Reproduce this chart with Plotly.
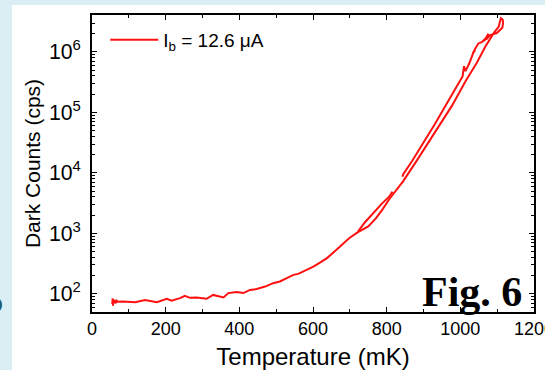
import plotly.graph_objects as go

# Dark counts vs temperature
temperature_mk = [
    55, 56, 57, 58, 60, 62, 64, 67, 70, 85, 117, 144, 176, 203, 216, 239, 252, 266, 284,
    311, 329, 343, 357, 370, 393, 411, 429, 447, 470, 492, 510, 529, 547, 560, 583, 601,
    619, 638, 666, 698, 722, 750, 770, 787, 806, 825, 845, 883, 930, 977, 1016, 1044,
    1068, 1092, 1104, 1110, 1115,
    1116, 1114, 1099, 1081, 1070, 1076, 1064, 1072, 1058, 1049, 1041, 1034, 1040, 1036,
    1025, 1014, 1010, 1006, 1000, 990, 976, 955, 931, 900, 870, 845, 843,
    None,
    816, 806, 787, 758, 740, 722,
]
dark_counts_cps = [
    68, 84, 64, 80, 70, 79, 70, 77, 74, 74.6, 72.8, 79, 73, 83, 77, 85, 93, 86, 87,
    83, 96, 92, 87, 103, 107, 103, 116, 120, 132, 150, 160, 182, 206, 214, 249, 282,
    329, 390, 550, 830, 1050, 1300, 1750, 2400, 3600, 5200, 7300, 16400, 45300, 128000, 344000, 650000,
    1.23e6, 2.1e6, 2.6e6, 3.6e6, 3.4e6,
    3.0e6, 2.5e6, 2.05e6, 1.9e6, 1.6e6, 2.0e6, 1.5e6, 1.75e6, 1.45e6, 1.38e6, 1.15e6, 9.5e5, 1.05e6, 1.0e6,
    6.6e5, 4.8e5, 5.8e5, 3.9e5, 3.4e5, 2.7e5, 1.9e5, 1.15e5, 6.4e4, 3.1e4, 1.6e4, 9.5e3, 8.6e3,
    None,
    4900, 4000, 3100, 2000, 1500, 1070,
]
series_name = "I<sub>b</sub> = 12.6 μA"
x_title = "Temperature (mK)"
y_title = "Dark Counts (cps)"
fig_label = "<b>Fig. 6</b>"

FONT = "Liberation Sans, Arial, sans-serif"

fig = go.Figure()
fig.add_trace(go.Scatter(
    x=temperature_mk, y=dark_counts_cps, mode="lines", name=series_name,
    line=dict(color="#ff1010", width=2), connectgaps=False,
))

# slide background panel
fig.add_shape(type="rect", xref="paper", yref="paper",
              x0=-0.181, x1=1.1, y0=-0.3, y1=1.0337,
              fillcolor="white", line=dict(width=0), layer="below")

fig.add_annotation(text=fig_label, xref="paper", yref="paper", x=0.977, y=0.067,
                   xanchor="right", yanchor="middle", showarrow=False,
                   font=dict(family="Liberation Serif, Times New Roman, serif", size=42, color="black"))
fig.add_annotation(text="<b>o</b>", xref="paper", yref="paper", x=-0.197, y=0.03,
                   xanchor="right", yanchor="middle", showarrow=False,
                   font=dict(family=FONT, size=26, color="#245b66"))

fig.update_layout(
    width=545, height=370,
    margin=dict(l=92, r=11, t=15, b=58),
    paper_bgcolor="#dbeef3", plot_bgcolor="white",
    font=dict(family=FONT, color="black"),
    showlegend=True,
    legend=dict(x=0.03, y=0.916, xanchor="left", yanchor="middle",
                bgcolor="rgba(0,0,0,0)", font=dict(size=19, family=FONT), itemwidth=48),
    xaxis=dict(
        range=[0, 1200], dtick=200, tick0=0, automargin=False,
        ticks="inside", ticklen=5, tickwidth=1, tickcolor="black",
        minor=dict(ticks="inside", ticklen=3, dtick=100, tickcolor="black"),
        showline=True, linecolor="black", linewidth=1.5, mirror="ticks",
        showgrid=False, zeroline=False, ticklabeloverflow="allow",
        tickfont=dict(size=18, family=FONT),
        title=dict(text=x_title, font=dict(size=24, family=FONT), standoff=10),
    ),
    yaxis=dict(
        type="log", range=[1.70, 6.61], dtick=1, automargin=False,
        exponentformat="power", showexponent="all",
        ticks="inside", ticklen=5, tickwidth=1, tickcolor="black",
        minor=dict(ticks="inside", ticklen=3, dtick="D1", tickcolor="black"),
        showline=True, linecolor="black", linewidth=1.5, mirror="ticks",
        showgrid=False, zeroline=False, ticklabelstandoff=6,
        tickfont=dict(size=17, family=FONT),
        title=dict(text=y_title, font=dict(size=21, family=FONT), standoff=3),
    ),
)

fig.write_html(
    "out.html",
    config={"displayModeBar": False},
    post_script="document.body.style.margin='0';document.body.style.background='#dbeef3';",
)
